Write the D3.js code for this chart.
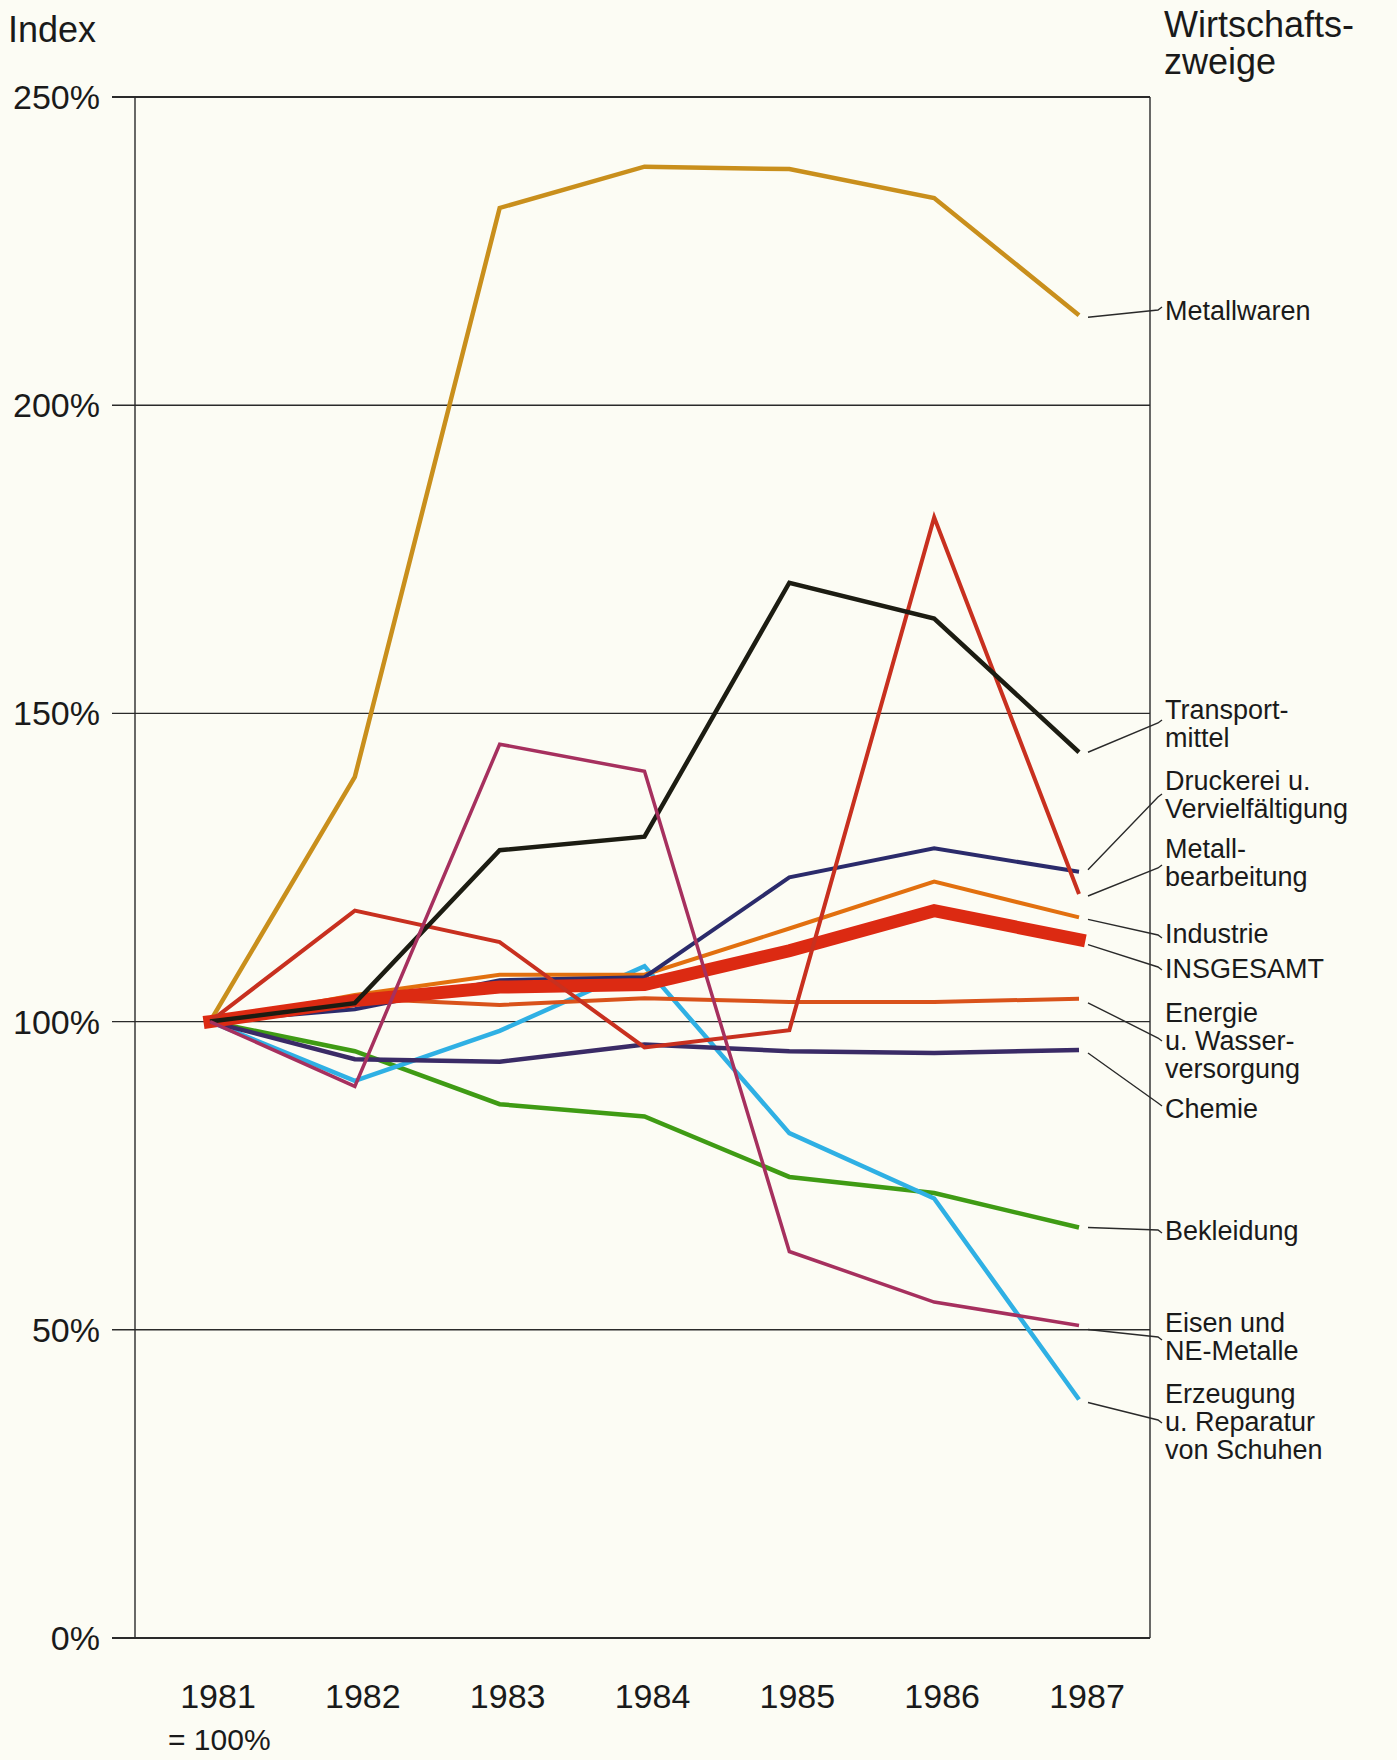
<!DOCTYPE html>
<html><head><meta charset="utf-8">
<script src="https://cdn.jsdelivr.net/npm/d3@7"></script>
<style>
html,body{margin:0;padding:0;background:#fcfcf4;}
text{font-family:"Liberation Sans",Arial,sans-serif;fill:#1a1a1a;}
</style></head>
<body>
<svg id="chart" width="1397" height="1760"></svg>
<script>
// ---- data ----
const years = [1981, 1982, 1983, 1984, 1985, 1986, 1987];
const yTicks = [0, 50, 100, 150, 200, 250];
const yTickLabels = ["0%", "50%", "100%", "150%", "200%", "250%"];

const metallwaren       = [100, 139.7, 232.0, 238.7, 238.3, 233.6, 214.6];
const transportmittel   = [100, 103.0, 127.8, 130.0, 171.2, 165.4, 143.7];
const druckerei         = [100, 102.0, 106.7, 107.2, 123.4, 128.1, 124.3];
const metallbearbeitung = [100, 118.0, 112.9, 95.8, 98.6, 181.8, 120.7];
const industrie         = [100, 104.3, 107.6, 107.6, 115.1, 122.7, 116.9];
const insgesamt         = [100, 103.4, 105.6, 106.0, 111.5, 118.0, 113.3];
const energie           = [100, 103.8, 102.7, 103.8, 103.2, 103.2, 103.7];
const chemie            = [100, 93.9, 93.5, 96.3, 95.2, 94.9, 95.4];
const bekleidung        = [100, 95.2, 86.6, 84.6, 74.8, 72.2, 66.6];
const eisen             = [100, 89.5, 145.0, 140.6, 62.7, 54.5, 50.7];
const schuhe            = [100, 90.4, 98.5, 109.0, 81.9, 71.3, 38.7];

const seriesNames = ["Metallwaren","Transportmittel","Druckerei u. Vervielfältigung","Metallbearbeitung",
  "Industrie","INSGESAMT","Energie u. Wasserversorgung","Chemie","Bekleidung","Eisen und NE-Metalle",
  "Erzeugung u. Reparatur von Schuhen"];
const seriesValues = [metallwaren, transportmittel, druckerei, metallbearbeitung, industrie, insgesamt,
  energie, chemie, bekleidung, eisen, schuhe];
const labelLines = [
  ["Metallwaren"], ["Transport-","mittel"], ["Druckerei u.","Vervielfältigung"], ["Metall-","bearbeitung"],
  ["Industrie"], ["INSGESAMT"], ["Energie","u. Wasser-","versorgung"], ["Chemie"], ["Bekleidung"],
  ["Eisen und","NE-Metalle"], ["Erzeugung","u. Reparatur","von Schuhen"]
];

// ---- styles / layout ----
const colors = ["#c98f1c","#1c1c12","#2b2b6b","#c8301f","#e2700f","#dc2a12","#d9521a","#3a2b66","#3f9b14","#a6305e","#2fb0e4"];
const widths = [4.5, 4.5, 4, 4, 4, 13, 4, 4.5, 4.5, 3.5, 4.5];
const drawOrder = [0, 8, 10, 7, 6, 4, 2, 5, 3, 1, 9];
// first baseline of label, leader end y (px)
const labelBase = [320, 719, 790, 858, 943, 978, 1022, 1118, 1240, 1332, 1403];
const leaderEnd = [310, 723, 797, 868, 935, 967, 1038, 1103, 1230, 1337, 1420];
const leaderStartOff = [2, 0, -2, 2, 2, 5, 4, 3, 0, 4, 3];

const svg = d3.select("#chart");
const L = 135, R = 1150, T = 97, B = 1638;
const x = d3.scaleLinear().domain([1981, 1987]).range([210, 1079]);
const y = d3.scaleLinear().domain([0, 250]).range([B, T]);

// grid lines
svg.append("g").selectAll("line").data(yTicks).join("line")
  .attr("x1", L - 23).attr("x2", R)
  .attr("y1", d => y(d)).attr("y2", d => y(d))
  .attr("stroke", "#2a2a2a").attr("stroke-width", d => (d === 0 || d === 250) ? 2 : 1.4);
// frame verticals
svg.append("line").attr("x1", L).attr("x2", L).attr("y1", T).attr("y2", B).attr("stroke", "#2a2a2a").attr("stroke-width", 1.4);
svg.append("line").attr("x1", R).attr("x2", R).attr("y1", T).attr("y2", B).attr("stroke", "#2a2a2a").attr("stroke-width", 1.4);

// y tick labels
svg.append("g").selectAll("text").data(yTicks).join("text")
  .attr("x", 100).attr("y", d => y(d) + 12)
  .attr("text-anchor", "end").attr("font-size", 34)
  .text((d, i) => yTickLabels[i]);

svg.append("text").attr("x", 8).attr("y", 42).attr("font-size", 36).text("Index");
svg.append("text").attr("x", 1164).attr("y", 37).attr("font-size", 36).text("Wirtschafts-");
svg.append("text").attr("x", 1164).attr("y", 74).attr("font-size", 36).text("zweige");

// x labels
svg.append("g").selectAll("text").data(years).join("text")
  .attr("x", d => x(d) + 8).attr("y", 1708)
  .attr("text-anchor", "middle").attr("font-size", 34)
  .text(d => d);
svg.append("text").attr("x", 168).attr("y", 1750).attr("font-size", 30).text("= 100%");

// series lines
const line = d3.line().x((d, i) => x(years[i])).y(d => y(d));
const g = svg.append("g");
drawOrder.forEach(k => {
  g.append("path").datum(seriesValues[k])
    .attr("d", line)
    .attr("fill", "none")
    .attr("stroke", colors[k])
    .attr("stroke-width", widths[k])
    .attr("stroke-linejoin", "miter")
    .attr("stroke-linecap", k === 5 ? "square" : "butt");
});

// leaders + labels
seriesValues.forEach((vals, k) => {
  const x0 = x(1987) + 9, y0 = y(vals[vals.length - 1]) + leaderStartOff[k];
  svg.append("path")
    .attr("d", `M${x0},${y0}L${1158},${leaderEnd[k]}L${1162},${leaderEnd[k] + (leaderEnd[k] > y0 ? 3 : -3)}`)
    .attr("fill", "none").attr("stroke", "#2a2a2a").attr("stroke-width", 1.4);
  const t = svg.append("text").attr("x", 1165).attr("y", labelBase[k]).attr("font-size", 27);
  labelLines[k].forEach((s, j) => {
    t.append("tspan").attr("x", 1165).attr("dy", j === 0 ? 0 : 28).text(s);
  });
});
</script>
</body></html>
